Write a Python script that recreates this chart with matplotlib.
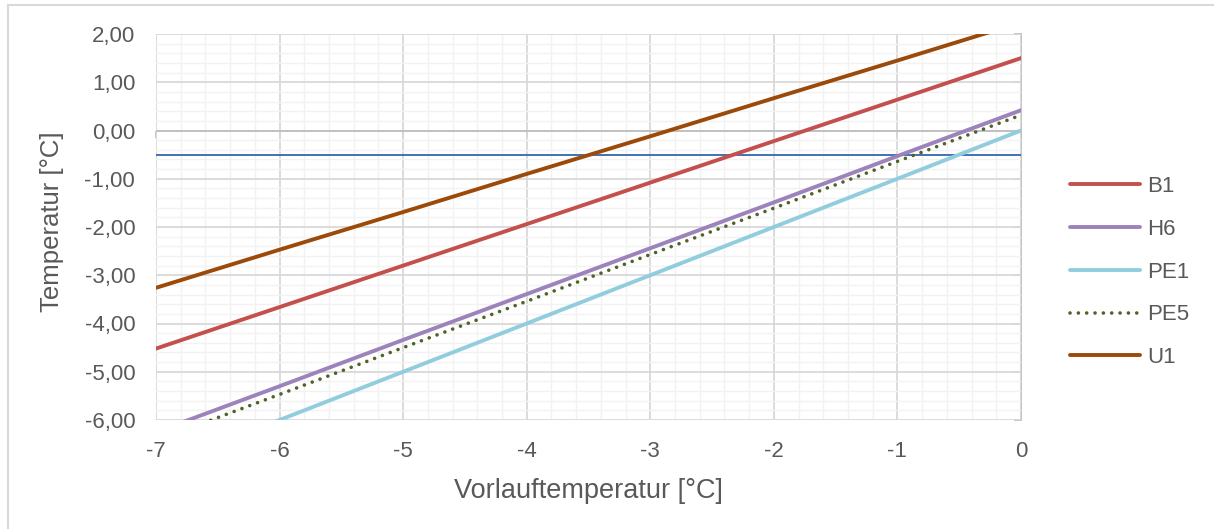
import matplotlib
matplotlib.use("Agg")
import matplotlib.pyplot as plt
from matplotlib.ticker import MultipleLocator, FuncFormatter, NullFormatter
from matplotlib.patches import Rectangle

x_vals = [-7, -6, -5, -4, -3, -2, -1, 0]
b1 = [-4.52, -3.66, -2.80, -1.94, -1.08, -0.22, 0.64, 1.50]
h6 = [-6.25, -5.30, -4.34, -3.39, -2.44, -1.49, -0.53, 0.42]
pe1 = [-7.00, -6.00, -5.00, -4.00, -3.00, -2.00, -1.00, 0.00]
pe5 = [-6.43, -5.47, -4.50, -3.54, -2.57, -1.61, -0.64, 0.32]
u1 = [-3.26, -2.47, -1.69, -0.90, -0.12, 0.67, 1.45, 2.24]
ref_level = -0.5

series_names = ["B1", "H6", "PE1", "PE5", "U1"]

plt.rcParams['font.family'] = ['Liberation Sans', 'DejaVu Sans']
txt = '#595959'

fig = plt.figure(figsize=(12.14, 5.29), dpi=100)
ax = fig.add_axes([156/1214, 1-420/529, (1021-156)/1214, (420-34)/529])

# figure border
fig.patches.append(Rectangle((8/1214, -0.05), 1.1, 1-5/529+0.05, transform=fig.transFigure,
                             fill=False, edgecolor='#d9d9d9', linewidth=1.5, zorder=0))

ax.axhline(ref_level, color='#3f73b5', lw=1.4, zorder=3)

lw = 2.8
ax.plot(x_vals, b1, color='#c4504e', lw=lw, label='B1', zorder=4, solid_capstyle='round')
ax.plot(x_vals, h6, color='#9c83bc', lw=lw, label='H6', zorder=4, solid_capstyle='round')
ax.plot(x_vals, pe1, color='#92cddd', lw=lw, label='PE1', zorder=4, solid_capstyle='round')
ax.plot(x_vals, pe5, color='#4f6228', lw=2.6, ls=(0, (0.01, 2.3)), dash_capstyle='round',
        label='PE5', zorder=5)
ax.plot(x_vals, u1, color='#9c4a0a', lw=lw, label='U1', zorder=4, solid_capstyle='round')

ax.set_xlim(-7, 0)
ax.set_ylim(-6, 2)
ax.xaxis.set_major_locator(MultipleLocator(1))
ax.xaxis.set_minor_locator(MultipleLocator(0.2))
ax.yaxis.set_major_locator(MultipleLocator(1))
ax.yaxis.set_minor_locator(MultipleLocator(0.2))
ax.yaxis.set_major_formatter(FuncFormatter(lambda v, p: f"{v:.2f}".replace('.', ',').replace('-0,00', '0,00')))
ax.xaxis.set_major_formatter(FuncFormatter(lambda v, p: f"{int(round(v))}"))

ax.grid(which='major', color='#d9d9d9', lw=1.3, zorder=1)
ax.grid(which='minor', color='#f2f2f2', lw=1.0, zorder=0.5)
ax.set_axisbelow(True)
for s in ax.spines.values():
    s.set_visible(False)

ax.tick_params(which='both', length=0, labelsize=16, labelcolor=txt)
ax.tick_params(axis='x', pad=15)
ax.tick_params(axis='y', pad=15)

# horizontal axis line crossing at y=0
ax.axhline(0, color='#bfbfbf', lw=1.3, zorder=1.5)
sx = ax.secondary_xaxis(0.75)
sx.xaxis.set_ticks_position('bottom')
sx.xaxis.set_major_locator(MultipleLocator(1))
sx.xaxis.set_major_formatter(NullFormatter())
sx.tick_params(length=5, width=1.2, color='#bfbfbf', direction='out')
for k in ['top', 'left', 'right', 'bottom']:
    sx.spines[k].set_visible(False)

# vertical axis at x=0 (right edge)
sy = ax.secondary_yaxis('right')
sy.yaxis.set_major_locator(MultipleLocator(1))
sy.yaxis.set_major_formatter(NullFormatter())
sy.tick_params(length=5, width=1.2, color='#bfbfbf', direction='in')
sy.spines['right'].set_color('#bfbfbf')
sy.spines['right'].set_linewidth(1.3)

ax.set_xlabel('Vorlauftemperatur [°C]', fontsize=19.5, color=txt, labelpad=12)
ax.set_ylabel('Temperatur [°C]', fontsize=18.5, color=txt)
ax.yaxis.set_label_coords((64-156)/865, (420-221.5)/386)

leg = fig.legend(loc='upper left', bbox_to_anchor=(1050/1214, 1-156/529), frameon=False,
                 fontsize=16, labelspacing=0.98, handlelength=3.15, handletextpad=0.32)
for t in leg.get_texts():
    t.set_color(txt)

fig.savefig('out.png', dpi=100)
